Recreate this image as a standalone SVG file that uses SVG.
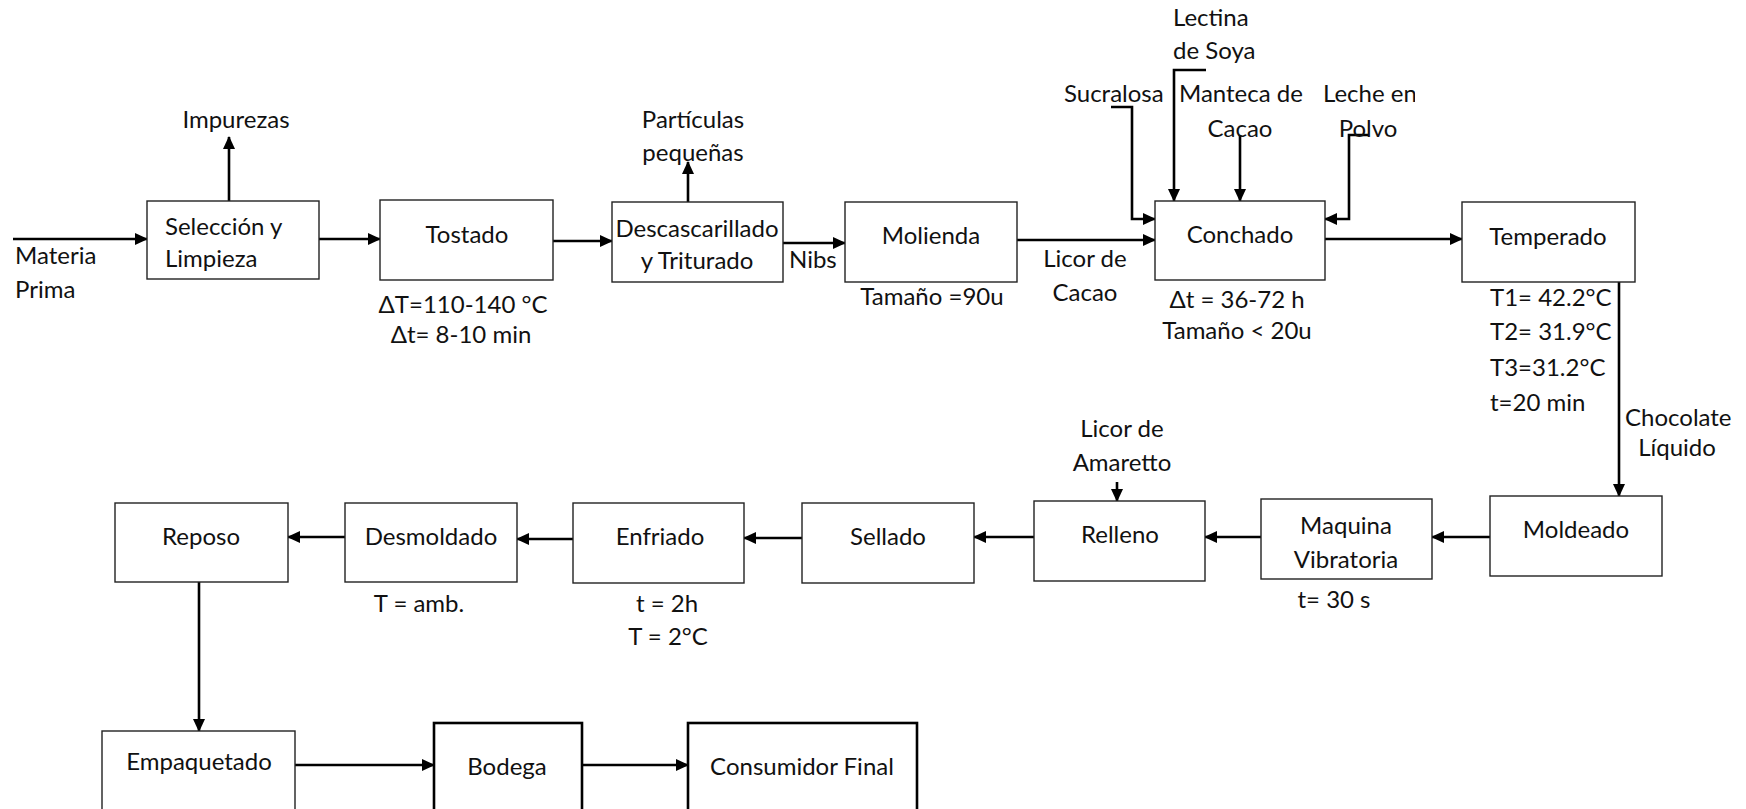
<svg xmlns="http://www.w3.org/2000/svg" width="1746" height="809" viewBox="0 0 1746 809">
<defs>
<marker id="ah" markerWidth="13" markerHeight="12" refX="12" refY="6" orient="auto" markerUnits="userSpaceOnUse"><path d="M0,0 L13,6 L0,12 z" fill="#000"/></marker>
<clipPath id="clipLeche"><rect x="1300" y="70" width="115" height="50"/></clipPath>
</defs>
<style>
.box{fill:#fff;stroke:#222;stroke-width:1.4}
.thick{fill:#fff;stroke:#000;stroke-width:2.6}
.c{fill:none;stroke:#000;stroke-width:2.6;marker-end:url(#ah)}
text{font-family:Lato,"Liberation Sans",sans-serif;font-size:24px;fill:#111}
.m{text-anchor:middle}
</style>
<rect width="1746" height="809" fill="#fff"/>
<g id="connectors">
<path class="c" d="M13,239 H147"/>
<path class="c" d="M229,201 V137"/>
<path class="c" d="M319,239 H380"/>
<path class="c" d="M553,241 H612"/>
<path class="c" d="M688,202 V162"/>
<path class="c" d="M783,243 H845"/>
<path class="c" d="M1017,240 H1155"/>
<path class="c" d="M1111,107 H1132 V219 H1155"/>
<path class="c" d="M1206,70 H1174 V201"/>
<path class="c" d="M1240,135 V201"/>
<path class="c" d="M1369,135 H1349 V219 H1325"/>
<path class="c" d="M1325,239 H1462"/>
<path class="c" d="M1619,282 V496"/>
<path class="c" d="M1490,537 H1432"/>
<path class="c" d="M1261,537 H1205"/>
<path class="c" d="M1034,537 H974"/>
<path class="c" d="M802,538 H744"/>
<path class="c" d="M573,539 H517"/>
<path class="c" d="M345,537 H288"/>
<path class="c" d="M1117,482 V501"/>
<path class="c" d="M199,582 V731"/>
<path class="c" d="M295,765 H434"/>
<path class="c" d="M582,765 H688"/>
</g>
<g id="materia-prima"><text x="15" y="264">Materia</text><text x="15" y="298">Prima</text></g>
<g id="impurezas"><text class="m" x="236" y="128">Impurezas</text></g>
<g id="seleccion"><rect class="box" x="147" y="201" width="172" height="78"/><text x="165" y="235">Selección y</text><text x="165" y="267">Limpieza</text></g>
<g id="tostado"><rect class="box" x="380" y="200" width="173" height="80"/><text class="m" x="467" y="243">Tostado</text><text class="m" x="463" y="313">ΔT=110-140 °C</text><text class="m" x="461" y="343">Δt= 8-10 min</text></g>
<g id="particulas"><text class="m" x="693" y="128">Partículas</text><text class="m" x="693" y="161">pequeñas</text></g>
<g id="descascarillado"><rect class="box" x="612" y="202" width="171" height="80"/><text class="m" x="697" y="237">Descascarillado</text><text class="m" x="697" y="269">y Triturado</text></g>
<g id="nibs"><text x="789" y="268">Nibs</text></g>
<g id="molienda"><rect class="box" x="845" y="202" width="172" height="80"/><text class="m" x="931" y="244">Molienda</text><text class="m" x="932" y="305">Tamaño =90u</text></g>
<g id="licor-cacao"><text class="m" x="1085" y="267">Licor de</text><text class="m" x="1085" y="301">Cacao</text></g>
<g id="sucralosa"><text x="1064" y="102">Sucralosa</text></g>
<g id="lectina"><text x="1173" y="26">Lectina</text><text x="1173" y="59">de Soya</text></g>
<g id="manteca"><text x="1179" y="102">Manteca de</text><text class="m" x="1240" y="137">Cacao</text></g>
<g id="leche"><text x="1323" y="102" clip-path="url(#clipLeche)">Leche en</text><text class="m" x="1368" y="137">Polvo</text></g>
<g id="conchado"><rect class="box" x="1155" y="201" width="170" height="79"/><text class="m" x="1240" y="243">Conchado</text><text class="m" x="1237" y="308">Δt = 36-72 h</text><text class="m" x="1237" y="339">Tamaño &lt; 20u</text></g>
<g id="temperado"><rect class="box" x="1462" y="202" width="173" height="80"/><text class="m" x="1548" y="245">Temperado</text><text x="1490" y="306">T1= 42.2°C</text><text x="1490" y="340">T2= 31.9°C</text><text x="1490" y="376">T3=31.2°C</text><text x="1490" y="411">t=20 min</text></g>
<g id="chocolate"><text x="1625" y="426">Chocolate</text><text class="m" x="1677" y="456">Líquido</text></g>
<g id="moldeado"><rect class="box" x="1490" y="496" width="172" height="80"/><text class="m" x="1576" y="538">Moldeado</text></g>
<g id="maquina"><rect class="box" x="1261" y="499" width="171" height="80"/><text class="m" x="1346" y="534">Maquina</text><text class="m" x="1346" y="568">Vibratoria</text><text class="m" x="1334" y="608">t= 30 s</text></g>
<g id="amaretto"><text class="m" x="1122" y="437">Licor de</text><text class="m" x="1122" y="471">Amaretto</text></g>
<g id="relleno"><rect class="box" x="1034" y="501" width="171" height="80"/><text class="m" x="1120" y="543">Relleno</text></g>
<g id="sellado"><rect class="box" x="802" y="503" width="172" height="80"/><text class="m" x="888" y="545">Sellado</text></g>
<g id="enfriado"><rect class="box" x="573" y="503" width="171" height="80"/><text class="m" x="660" y="545">Enfriado</text><text class="m" x="667" y="612">t = 2h</text><text class="m" x="668" y="645">T = 2°C</text></g>
<g id="desmoldado"><rect class="box" x="345" y="503" width="172" height="79"/><text class="m" x="431" y="545">Desmoldado</text><text class="m" x="419" y="612">T = amb.</text></g>
<g id="reposo"><rect class="box" x="115" y="503" width="173" height="79"/><text class="m" x="201" y="545">Reposo</text></g>
<g id="empaquetado"><rect class="box" x="102" y="731" width="193" height="100"/><text class="m" x="199" y="770">Empaquetado</text></g>
<g id="bodega"><rect class="thick" x="434" y="723" width="148" height="110"/><text class="m" x="507" y="775">Bodega</text></g>
<g id="consumidor"><rect class="thick" x="688" y="723" width="229" height="110"/><text class="m" x="802" y="775">Consumidor Final</text></g>
</svg>
